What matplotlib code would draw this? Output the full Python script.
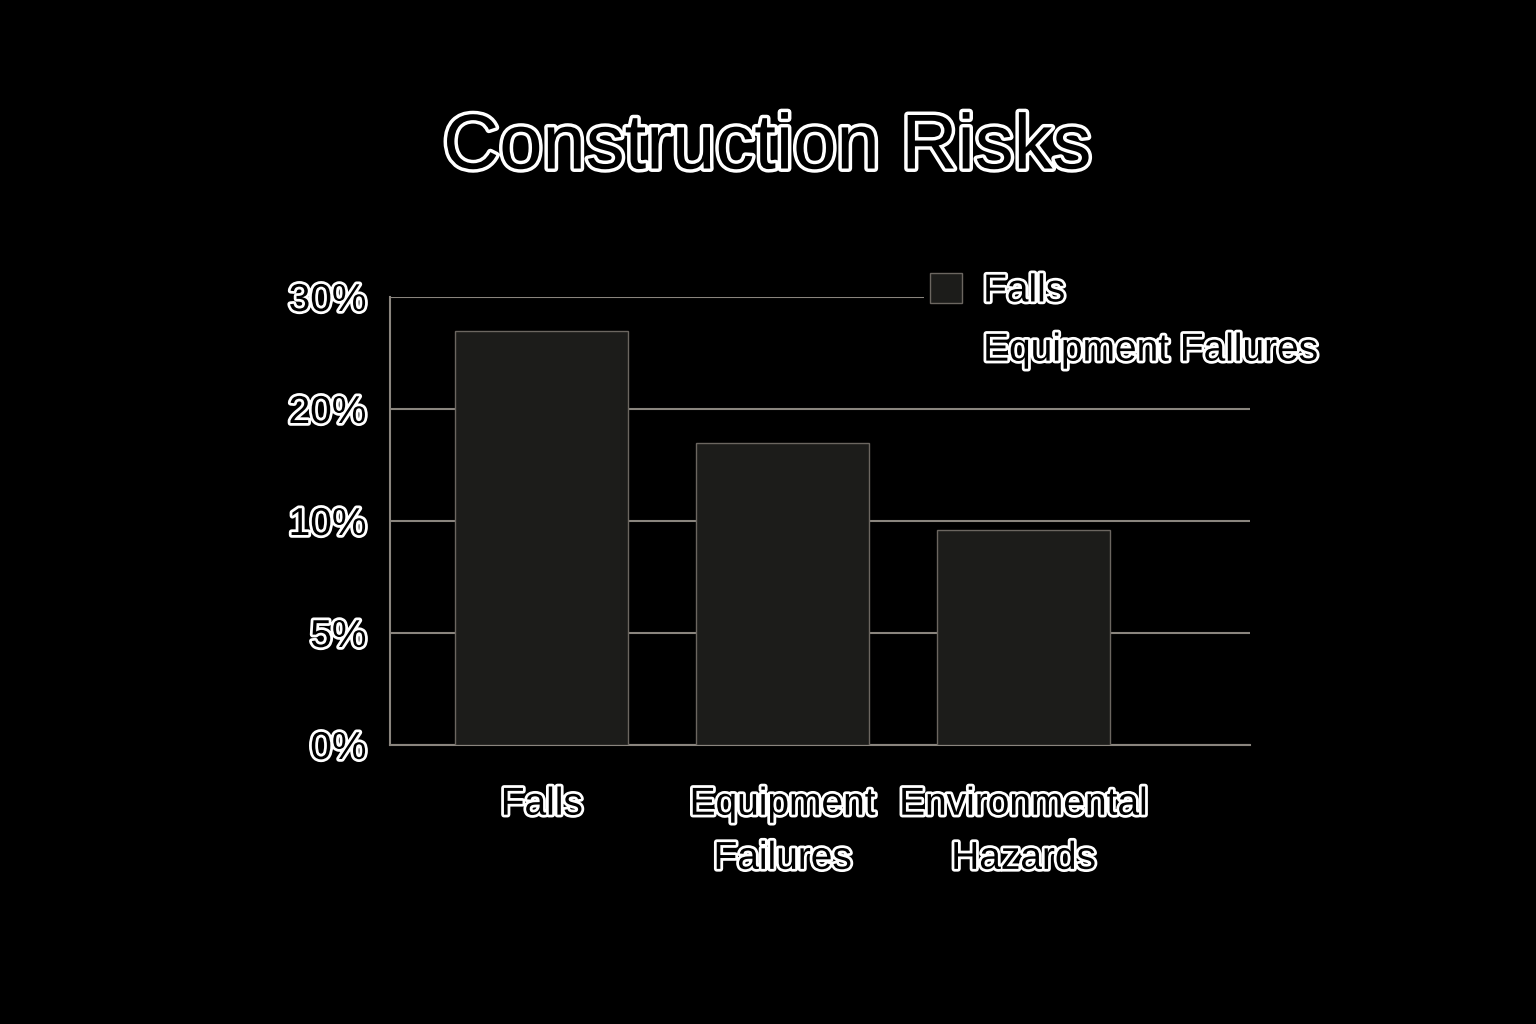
import numpy as np
import matplotlib
matplotlib.use("Agg")
import matplotlib.pyplot as plt
import matplotlib.patheffects as pe
from matplotlib.patches import Patch

# data
categories = ["Falls", "Equipment\nFailures", "Environmental\nHazards"]
values = [27.0, 17.0, 9.6]
tick_values = [0, 5, 10, 20, 30]
tick_labels = ["0%", "5%", "10%", "20%", "30%"]
legend_labels = ["Falls", "Equipment Fallures"]

BAR = "#1c1c1a"
EDGE = "#6b6660"
GRID = "#8a857e"
outline = [pe.withStroke(linewidth=4, foreground="white")]

plt.rcParams["font.family"] = ["Liberation Sans", "DejaVu Sans"]

fig = plt.figure(figsize=(15.36, 10.24), dpi=100, facecolor="black")
ax = fig.add_axes([390 / 1536, 1 - 745 / 1024, 860 / 1536, 448 / 1024])
ax.set_facecolor("black")

# y axis spaces the ticks evenly although the values are not
idx = np.arange(len(tick_values))
ax.set_yscale("function", functions=(lambda v: np.interp(v, tick_values, idx),
                                     lambda v: np.interp(v, idx, tick_values)))
ax.set_ylim(0, 30)

x = np.arange(len(categories))
ax.bar(x, values, width=0.72, color=BAR, edgecolor=EDGE, linewidth=1, zorder=3)
ax.set_xlim(-0.63, 2.94)

ax.set_yticks(tick_values)
ax.set_yticklabels(tick_labels)
ax.set_xticks(x)
ax.set_xticklabels(categories, linespacing=1.65)
ax.yaxis.grid(True, color=GRID, linewidth=1.5, zorder=0)
ax.set_axisbelow(True)
ax.tick_params(axis="y", length=0, pad=17, labelsize=28)
ax.tick_params(axis="x", length=0, pad=30, labelsize=28)
for lab in ax.get_xticklabels() + ax.get_yticklabels():
    lab.set_color("black")
    lab.set_path_effects(outline)

for side in ["top", "right"]:
    ax.spines[side].set_visible(False)
for side in ["left", "bottom"]:
    ax.spines[side].set_color(GRID)
    ax.spines[side].set_linewidth(1.5)

# legend: only the first entry has a swatch
handles = [Patch(facecolor=BAR, edgecolor=EDGE, linewidth=1),
           Patch(facecolor="none", edgecolor="none")]
leg = fig.legend(handles, legend_labels, loc="upper left",
                 bbox_to_anchor=(924 / 1536, 1 - 267 / 1024),
                 bbox_transform=fig.transFigure, fontsize=28,
                 handlelength=0.82, handleheight=0.82, handletextpad=0.55,
                 labelspacing=0.58, borderpad=0.15, borderaxespad=0,
                 frameon=True, facecolor="black", edgecolor="none",
                 framealpha=1)
for t in leg.get_texts():
    t.set_color("black")
    t.set_path_effects(outline)

fig.text(767 / 1536, 1 - 148 / 1024, "Construction Risks", fontsize=56,
         ha="center", va="center", color="black",
         path_effects=[pe.withStroke(linewidth=5, foreground="white")])

fig.savefig("out.png", dpi=100, facecolor="black")
